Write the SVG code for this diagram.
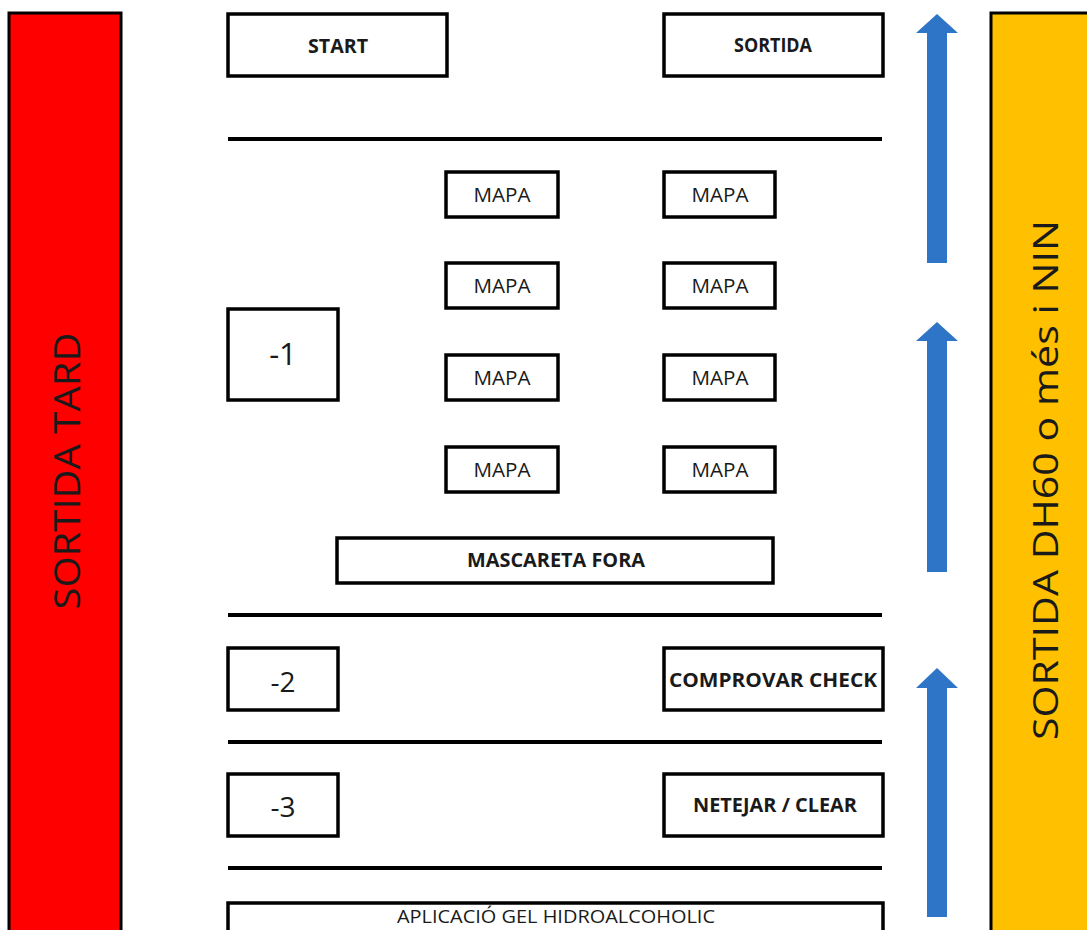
<svg xmlns="http://www.w3.org/2000/svg" width="1087" height="930" viewBox="0 0 1087 930">
<style>
.box{fill:#fff;stroke:#000;stroke-width:3.5}
.sep{stroke:#000;stroke-width:4}
.t{font-family:"Open Sans","Liberation Sans",sans-serif;fill:#1a1a1a;text-anchor:middle}
.b{font-weight:bold;font-size:20px}
.r{font-size:20px}
.n{font-size:28px}
.arrow{fill:#2E75C8}
</style>
<rect width="1087" height="930" fill="#fff"/>
<g id="sortida-tard">
<rect x="9" y="13" width="112" height="930" fill="#FF0000" stroke="#000" stroke-width="3"/>
<text class="t" transform="translate(80,471) rotate(-90)" font-size="37" textLength="277" lengthAdjust="spacingAndGlyphs">SORTIDA TARD</text>
</g>
<g id="sortida-dh60">
<rect x="991" y="13" width="110" height="930" fill="#FFC000" stroke="#000" stroke-width="3"/>
<text class="t" transform="translate(1058,480) rotate(-90)" font-size="34" textLength="520" lengthAdjust="spacingAndGlyphs">SORTIDA DH60 o més i NIN</text>
</g>
<g id="start"><rect class="box" x="228" y="14" width="219" height="62"/><text class="t b" x="338" y="53" textLength="60" lengthAdjust="spacingAndGlyphs">START</text></g>
<g id="sortida"><rect class="box" x="664" y="14" width="219" height="62"/><text class="t b" x="773" y="52" textLength="78" lengthAdjust="spacingAndGlyphs">SORTIDA</text></g>
<g id="separators">
<line class="sep" x1="228" y1="139" x2="882" y2="139"/>
<line class="sep" x1="228" y1="615" x2="882" y2="615"/>
<line class="sep" x1="228" y1="742" x2="882" y2="742"/>
<line class="sep" x1="228" y1="868" x2="882" y2="868"/>
</g>
<g id="mapa-l1"><rect class="box" x="446" y="172" width="112" height="45"/><text class="t r" x="502" y="202" textLength="57" lengthAdjust="spacingAndGlyphs">MAPA</text></g>
<g id="mapa-r1"><rect class="box" x="664" y="172" width="111" height="45"/><text class="t r" x="720" y="202" textLength="57" lengthAdjust="spacingAndGlyphs">MAPA</text></g>
<g id="mapa-l2"><rect class="box" x="446" y="263" width="112" height="45"/><text class="t r" x="502" y="293" textLength="57" lengthAdjust="spacingAndGlyphs">MAPA</text></g>
<g id="mapa-r2"><rect class="box" x="664" y="263" width="111" height="45"/><text class="t r" x="720" y="293" textLength="57" lengthAdjust="spacingAndGlyphs">MAPA</text></g>
<g id="mapa-l3"><rect class="box" x="446" y="355" width="112" height="45"/><text class="t r" x="502" y="385" textLength="57" lengthAdjust="spacingAndGlyphs">MAPA</text></g>
<g id="mapa-r3"><rect class="box" x="664" y="355" width="111" height="45"/><text class="t r" x="720" y="385" textLength="57" lengthAdjust="spacingAndGlyphs">MAPA</text></g>
<g id="mapa-l4"><rect class="box" x="446" y="447" width="112" height="45"/><text class="t r" x="502" y="477" textLength="57" lengthAdjust="spacingAndGlyphs">MAPA</text></g>
<g id="mapa-r4"><rect class="box" x="664" y="447" width="111" height="45"/><text class="t r" x="720" y="477" textLength="57" lengthAdjust="spacingAndGlyphs">MAPA</text></g>
<g id="level-1"><rect class="box" x="228" y="309" width="110" height="91"/><text class="t" font-size="31" x="283" y="365">-1</text></g>
<g id="mascareta"><rect class="box" x="337" y="538" width="436" height="45"/><text class="t b" x="556" y="567" textLength="178" lengthAdjust="spacingAndGlyphs">MASCARETA FORA</text></g>
<g id="level-2"><rect class="box" x="228" y="648" width="110" height="62"/><text class="t n" x="283" y="692">-2</text></g>
<g id="comprovar"><rect class="box" x="664" y="648" width="219" height="62"/><text class="t b" x="773" y="687" textLength="208" lengthAdjust="spacingAndGlyphs">COMPROVAR  CHECK</text></g>
<g id="level-3"><rect class="box" x="228" y="774" width="110" height="62"/><text class="t n" x="283" y="817">-3</text></g>
<g id="netejar"><rect class="box" x="664" y="774" width="219" height="62"/><text class="t b" x="775" y="812" textLength="164" lengthAdjust="spacingAndGlyphs">NETEJAR / CLEAR</text></g>
<g id="aplicacio"><rect class="box" x="228" y="903" width="655" height="50"/><text class="t" x="556" y="923" font-size="19" textLength="318" lengthAdjust="spacingAndGlyphs">APLICACIÓ GEL HIDROALCOHOLIC</text></g>
<g id="connectors">
<polygon class="arrow" points="937,14 958,33 947,33 947,263 927,263 927,33 916,33"/>
<polygon class="arrow" points="937,322 958,341 947,341 947,572 927,572 927,341 916,341"/>
<polygon class="arrow" points="937,668 958,688 947,688 947,917 927,917 927,688 916,688"/>
</g>
</svg>
